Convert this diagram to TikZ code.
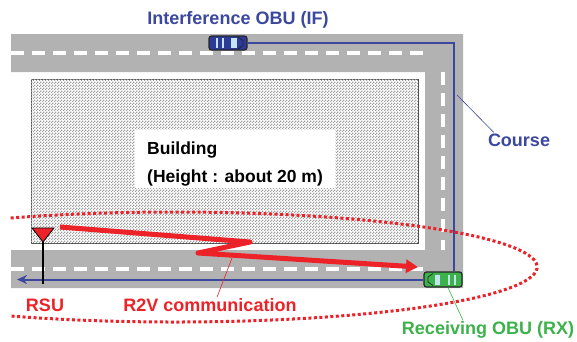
\documentclass[tikz,border=0pt]{standalone}
\usepackage{fontspec}
\setmainfont{Liberation Sans}
\usetikzlibrary{arrows.meta, patterns.meta}

\definecolor{courseblue}{RGB}{59,72,158}
\definecolor{linkred}{RGB}{236,34,40}
\definecolor{rxgreen}{RGB}{60,178,74}
\definecolor{roadgray}{RGB}{178,178,178}
\definecolor{ifbody}{RGB}{44,58,152}
\definecolor{glass}{RGB}{196,228,240}

% fine checker for the building roof
\tikzdeclarepattern{
  name=checker,
  type=uncolored,
  bottom left={(0pt,0pt)},
  top right={(3pt,3pt)},
  tile size={(3pt,3pt)},
  code={
    \fill (0pt,0pt) rectangle (1.5pt,1.5pt);
    \fill (1.5pt,1.5pt) rectangle (3pt,3pt);
  }
}

\begin{document}
\begin{tikzpicture}[x=1pt, y=-1pt,
  lbl/.style={font=\fontsize{18}{20}\selectfont\bfseries, inner sep=1pt},
  lane/.style={white, line width=3.5pt, dash pattern=on 13pt off 8pt},
  course/.style={courseblue, line width=2pt},
  car/.style={rectangle, rounded corners=2.5pt, draw=black!85, line width=1.2pt, minimum width=38pt, minimum height=14pt, inner sep=0pt},
  leader/.style={line width=0.6pt},
  r2v/.style={linkred, line width=5pt, line join=round, -{Triangle[length=12pt,width=13pt]}},
  zone/.style={linkred, line width=3pt, dash pattern=on 3pt off 2.5pt}]
\useasboundingbox (0,0) rectangle (577,341);

% roads around the building
\fill[roadgray] (11,34) -- (463,34) -- (463,288) -- (11,288) -- (11,250) -- (425,250) -- (425,72) -- (11,72) -- cycle;
\draw[lane] (11,53) -- (426,53);
\draw[lane] (443,72) -- (443,250);
\draw[lane] (11,269) -- (425,269);

% building
\node (building) [draw=black!70, line width=0.8pt, fill=white, postaction={pattern=checker, pattern color=gray!75}, minimum width=387pt, minimum height=164pt, inner sep=0pt] at (224.5,161) {};
\fill[white] (135,130) rectangle (335,188);
\node (bldtext) [align=left, anchor=west, inner sep=0pt, font=\fontsize{17.5}{28}\selectfont\bfseries] at (147,164) {Building\\(Height : about 20 m)};

% vehicles
\node (ifcar) [car, fill=ifbody] at (228,43) {};
\node (rxcar) [car, fill=rxgreen, minimum height=15pt] at (443,279.5) {};

% course of the interference vehicle
\coordinate (courseend) at (17,279.5);
\draw[course] (ifcar.east) -| ([xshift=11pt]rxcar.north);
\draw[course, -{Stealth[length=10pt,width=9pt]}] (rxcar.west) -- (courseend);

% windows and bonnet
\foreach \c/\d in {ifcar/1, rxcar/-1} {
  \begin{scope}[shift={(\c.center)}, xscale=\d]
    \fill[glass] (-12.5,-5) rectangle (-10.5,5);
    \fill[glass] (-6.5,-5) rectangle (-4.5,5);
    \fill[glass] (3,-5) rectangle (8.5,5);
    \draw[black!85, line width=0.7pt] (10,-6) -- (15,-2.5) -- (15,2.5) -- (10,6);
  \end{scope}
}

% coverage of the RSU
\draw[zone] (10.7,218) arc[start angle=117, end angle=-117, x radius=362pt, y radius=55pt];

% R2V link
\coordinate (tx) at (60,227);
\coordinate (rxhit) at (418,267);
\draw[r2v] (tx) -- (250,242) -- (198,253) -- (rxhit);

% RSU
\coordinate (rsu) at (43,242);
\draw[line width=2.2pt] (rsu) -- (43,284);
\draw[fill=linkred, draw=black, line width=0.8pt, line join=round] (32,228) -- (54,228) -- (rsu) -- cycle;

% labels
\node (iflabel) [lbl, text=courseblue] at (238,20) {Interference OBU (IF)};
\node (courselabel) [lbl, text=courseblue] at (519,140) {Course};
\node (rsulabel) [lbl, text=linkred] at (45,305) {RSU};
\node (r2vlabel) [lbl, text=linkred] at (210,305) {R2V communication};
\node (rxlabel) [lbl, text=rxgreen] at (488,330) {Receiving OBU (RX)};

% leaders
\coordinate (crsfoot) at (457,95);
\coordinate (zz) at (232,258);
\draw[courseblue, leader] (crsfoot) -- ([xshift=7pt]courselabel.north west);
\draw[linkred, leader] ([xshift=7pt]r2vlabel.north) -- (zz);
\draw[rxgreen, leader] ([xshift=5pt]rxcar.south) -- ([xshift=-25pt]rxlabel.north);

\end{tikzpicture}
\end{document}
